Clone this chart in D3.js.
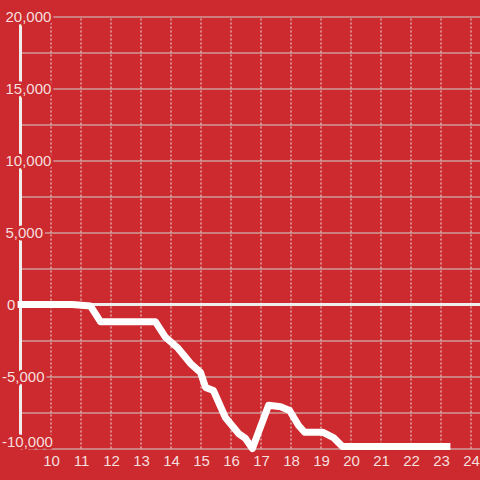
<!DOCTYPE html>
<html>
<head>
<meta charset="utf-8">
<script src="https://cdn.jsdelivr.net/npm/d3@7"></script>
<style>
  body { margin: 0; background: #cc2a2e; }
  svg { display: block; }
</style>
</head>
<body>
<svg id="chart"></svg>
<script>
// data
const hours = [8.9, 10.73, 11.33, 11.67, 13.5, 13.83, 14.23, 14.67, 15.0, 15.17, 15.43, 15.83, 16.27, 16.5, 16.73, 17.27, 17.67, 17.97, 18.27, 18.47, 19.07, 19.43, 19.73, 23.33]
const values = [0, 0, -100, -1200, -1200, -2270, -2990, -4100, -4720, -5760, -5970, -7850, -8960, -9300, -10000, -7000, -7100, -7360, -8400, -8870, -8870, -9240, -9860, -9860]
const xTicks = [10, 11, 12, 13, 14, 15, 16, 17, 18, 19, 20, 21, 22, 23, 24]
const yTicks = [-10000, -5000, 0, 5000, 10000, 15000, 20000]
const yMinor = [-7500, -2500, 2500, 7500, 12500, 17500]

const width = 480
const height = 480
const bg = "#cc2a2e"
const axisLeftX = 20
const font = "'Liberation Sans', Arial, sans-serif"

const svg = d3.select("#chart").attr("width", width).attr("height", height)
svg.append("rect").attr("width", width).attr("height", height).attr("fill", bg)

const x = d3.scaleLinear().domain([9, 24.3333]).range([20.5, 480.5])
const y = d3.scaleLinear().domain([-10000, 20000]).range([448.5, 16.5])

// horizontal grid (major + minor)
const hGrid = svg.append("g")
  .attr("transform", `translate(${axisLeftX},0)`)
  .call(d3.axisLeft(y).tickValues(yTicks.concat(yMinor)).tickSize(-(width - axisLeftX)).tickFormat(""))
hGrid.select(".domain").remove()
hGrid.selectAll("line").attr("stroke", "#d2d2d2").attr("stroke-width", 1)

// vertical dotted grid
const vGrid = svg.append("g")
  .attr("transform", `translate(0,${y(-10000)})`)
  .call(d3.axisTop(x).tickValues(xTicks).tickSize(y(-10000) - y(20000)).tickFormat(""))
vGrid.select(".domain").remove()
vGrid.selectAll("line").attr("stroke", "#e6e6e6").attr("stroke-dasharray", "2,2")

// zero line
svg.append("line")
  .attr("x1", axisLeftX).attr("x2", width)
  .attr("y1", y(0)).attr("y2", y(0))
  .attr("stroke", "#eeeeee").attr("stroke-width", 3)

// y axis line
svg.append("line")
  .attr("x1", axisLeftX + 0.5).attr("x2", axisLeftX + 0.5)
  .attr("y1", y(20000)).attr("y2", y(-10000))
  .attr("stroke", "#eeeeee").attr("stroke-width", 3)

// data line
const line = d3.line()
  .x((d, i) => x(hours[i]))
  .y(d => y(d))

svg.append("path")
  .datum(values)
  .attr("d", line)
  .attr("fill", "none")
  .attr("stroke", "#ffffff")
  .attr("stroke-width", 7)
  .attr("stroke-linejoin", "round")

// y labels
const fmt = d3.format(",")
const yLab = svg.append("g")
  .attr("transform", `translate(${axisLeftX},0)`)
  .call(d3.axisLeft(y).tickValues(yTicks).tickSize(0).tickFormat(d => fmt(d).replace("−", "-")))
yLab.select(".domain").remove()
yLab.selectAll("text")
  .attr("text-anchor", "start")
  .attr("x", d => (d < 0 ? 2 : d === 0 ? 7 : 5.5) - axisLeftX)
  .attr("dy", d => d === -10000 ? "-0.12em" : "0.35em")
  .attr("fill", "#f6dfdf")
  .attr("stroke", bg)
  .attr("stroke-width", 5)
  .attr("stroke-linejoin", "round")
  .attr("paint-order", "stroke")
  .style("font-family", font)
  .style("font-size", "15px")

// x labels
const xLab = svg.append("g")
  .attr("transform", `translate(0.5,${y(-10000)})`)
  .call(d3.axisBottom(x).tickValues(xTicks).tickSize(0).tickPadding(6.8))
xLab.select(".domain").remove()
xLab.selectAll("text")
  .attr("fill", "#f6dfdf")
  .style("font-family", font)
  .style("font-size", "15px")
</script>
</body>
</html>
